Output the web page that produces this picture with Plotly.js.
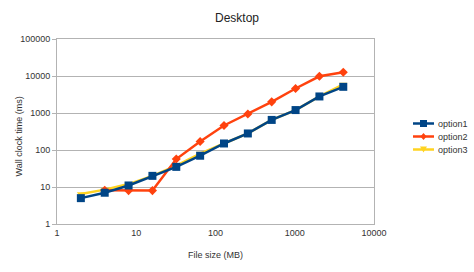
<!DOCTYPE html>
<html>
<head>
<meta charset="utf-8">
<script src="https://cdn.plot.ly/plotly-3.0.1.min.js"></script>
<style>html,body{margin:0;padding:0;background:#fff;}#chart{width:474px;height:272px;}</style>
</head>
<body>
<div id="chart"></div>
<script>
var fileSizes = [2, 4, 8, 16, 32, 64, 128, 256, 512, 1024, 2048, 4096];
var option1 = [5, 7, 11, 20, 35, 70, 150, 280, 650, 1200, 2800, 5100];
var option2 = [null, 8.2, 8, 8, 57, 170, 460, 940, 2000, 4600, 9800, 12600];
var option3 = [6.5, 8.5, 12, 20, 38, 80, 150, 280, 650, 1200, 2800, 5900];
var seriesNames = ['option1', 'option2', 'option3'];
var seriesColors = ['#004586', '#ff420e', '#ffd320'];
var yTickVals = [1, 10, 100, 1000, 10000, 100000];
var yTickText = ['1', '10', '100', '1000', '10000', '100000'];
var xTickVals = [1, 10, 100, 1000, 10000];
var xTickText = ['1', '10', '100', '1000', '10000'];

var W = 474, H = 272, ML = 57, MR = 100, MT = 39, MB = 48;
var PW = W - ML - MR, PH = H - MT - MB;
function px(x) { return (x - ML) / PW; }
function py(y) { return (H - MB - y) / PH; }

var traces = [
  {x: fileSizes, y: option3, name: seriesNames[2], mode: 'lines+markers', type: 'scatter',
   line: {color: seriesColors[2], width: 2.5}, marker: {symbol: 'triangle-down', size: 7, color: seriesColors[2]}},
  {x: fileSizes, y: option2, name: seriesNames[1], mode: 'lines+markers', type: 'scatter',
   line: {color: seriesColors[1], width: 2.5}, marker: {symbol: 'diamond', size: 7, color: seriesColors[1]}},
  {x: fileSizes, y: option1, name: seriesNames[0], mode: 'lines+markers', type: 'scatter',
   line: {color: seriesColors[0], width: 2.5}, marker: {symbol: 'square', size: 8, color: seriesColors[0]}}
];

// custom legend (LibreOffice style)
var shapes = [], annotations = [];
var rowY = [123.5, 136.5, 149.5];
for (var i = 0; i < 3; i++) {
  var y = rowY[i], c = seriesColors[i];
  shapes.push({type: 'line', xref: 'paper', yref: 'paper', x0: px(413), x1: px(434), y0: py(y), y1: py(y),
               line: {color: c, width: 2.5}});
  var cx = 423.5;
  var path;
  if (i === 0) {
    path = 'M' + px(cx - 3.5) + ',' + py(y - 3.5) + ' L' + px(cx + 3.5) + ',' + py(y - 3.5) +
           ' L' + px(cx + 3.5) + ',' + py(y + 3.5) + ' L' + px(cx - 3.5) + ',' + py(y + 3.5) + ' Z';
  } else if (i === 1) {
    path = 'M' + px(cx) + ',' + py(y - 3.5) + ' L' + px(cx + 3) + ',' + py(y) +
           ' L' + px(cx) + ',' + py(y + 3.5) + ' L' + px(cx - 3) + ',' + py(y) + ' Z';
  } else {
    path = 'M' + px(cx - 3.5) + ',' + py(y - 3) + ' L' + px(cx + 3.5) + ',' + py(y - 3) +
           ' L' + px(cx) + ',' + py(y + 3) + ' Z';
  }
  shapes.push({type: 'path', xref: 'paper', yref: 'paper', path: path, fillcolor: c, line: {width: 0}});
  annotations.push({text: seriesNames[i], xref: 'paper', yref: 'paper', x: px(436), y: py(y),
                    xanchor: 'left', yanchor: 'middle', showarrow: false,
                    font: {size: 9, color: '#333'}});
}
// y axis title placed like the original
annotations.push({text: 'Wall clock time (ms)', xref: 'paper', yref: 'paper', x: px(18.5), y: py(137),
                  xanchor: 'center', yanchor: 'middle', textangle: -90, showarrow: false,
                  font: {size: 9, color: '#333'}});

var layout = {
  width: W, height: H,
  margin: {l: ML, r: MR, t: MT, b: MB},
  paper_bgcolor: '#fff', plot_bgcolor: '#fff',
  font: {family: 'Liberation Sans, Arial, sans-serif', size: 9, color: '#333'},
  title: {text: 'Desktop', x: 0.5, xanchor: 'center', y: 0.935, yanchor: 'middle',
          font: {size: 12, color: '#222'}},
  showlegend: false,
  shapes: shapes,
  annotations: annotations,
  xaxis: {type: 'log', range: [0, 4], tickvals: xTickVals, ticktext: xTickText,
          showgrid: false, showline: true, linecolor: '#b3b3b3', linewidth: 1, mirror: true,
          ticks: 'outside', ticklen: 0, zeroline: false,
          title: {text: 'File size (MB)', font: {size: 9, color: '#333'}, standoff: 14}},
  yaxis: {type: 'log', range: [0, 5], tickvals: yTickVals, ticktext: yTickText,
          showgrid: true, gridcolor: '#b3b3b3', gridwidth: 1,
          showline: true, linecolor: '#b3b3b3', linewidth: 1, mirror: true,
          ticks: 'outside', ticklen: 4, tickcolor: '#b3b3b3', zeroline: false}
};
Plotly.newPlot('chart', traces, layout, {displayModeBar: false, staticPlot: true});
</script>
</body>
</html>
